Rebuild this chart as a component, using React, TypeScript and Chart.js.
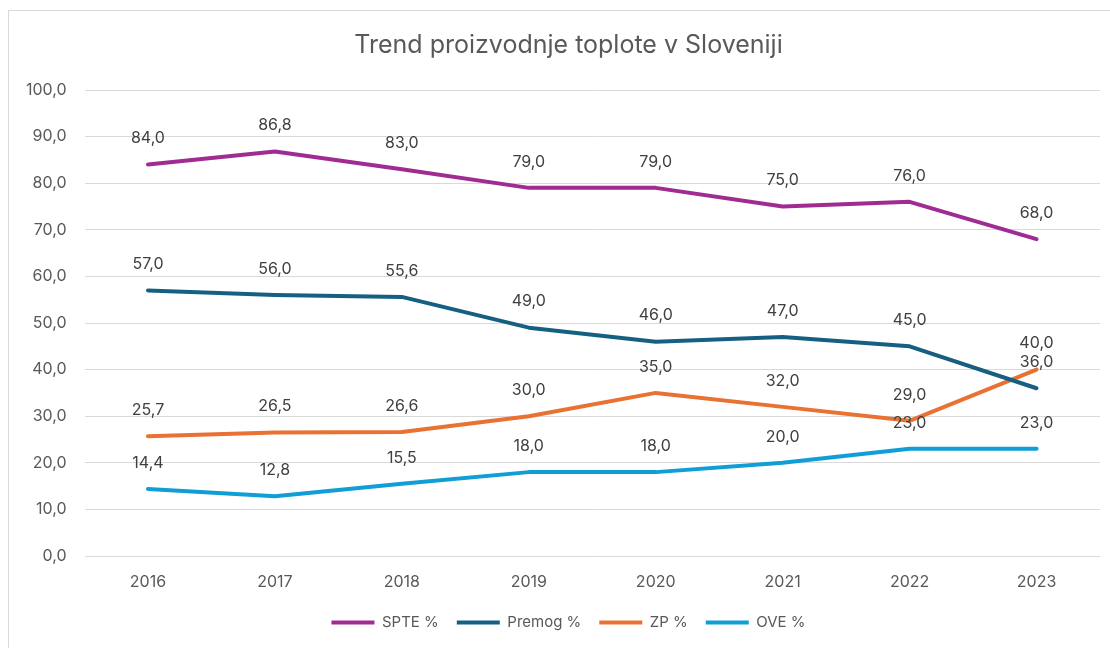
import React, { useEffect, useRef } from "react";
import { Chart, registerables } from "chart.js";

Chart.register(...registerables);

const years = ["2016", "2017", "2018", "2019", "2020", "2021", "2022", "2023"];
const spte = [84.0, 86.8, 83.0, 79.0, 79.0, 75.0, 76.0, 68.0];
const premog = [57.0, 56.0, 55.6, 49.0, 46.0, 47.0, 45.0, 36.0];
const zp = [25.7, 26.5, 26.6, 30.0, 35.0, 32.0, 29.0, 40.0];
const ove = [14.4, 12.8, 15.5, 18.0, 18.0, 20.0, 23.0, 23.0];
const seriesNames = ["SPTE %", "Premog %", "ZP %", "OVE %"];
const seriesColors = ["#A02B93", "#156082", "#E97132", "#0F9ED5"];
const chartTitle = "Trend proizvodnje toplote v Sloveniji";

const fmt = (v: number) => v.toFixed(1).replace(".", ",");
const FONT = "Inter, 'DejaVu Sans', sans-serif";

const dataLabelPlugin = {
  id: "dataLabels",
  afterLayout(chart: any) {
    // let the y-axis tick labels use the space left of the scale box
    chart.scales.y.left = 0;
  },
  afterDatasetsDraw(chart: any) {
    const ctx = chart.ctx;
    ctx.save();
    ctx.font = `16px ${FONT}`;
    ctx.fillStyle = "#404040";
    ctx.textAlign = "center";
    ctx.textBaseline = "middle";
    chart.data.datasets.forEach((ds: any, i: number) => {
      const meta = chart.getDatasetMeta(i);
      meta.data.forEach((pt: any, j: number) => {
        ctx.fillText(fmt(ds.data[j]), pt.x, pt.y - 26);
      });
    });
    ctx.restore();
  },
};

export default function App() {
  const ref = useRef<HTMLCanvasElement>(null);
  useEffect(() => {
    document.body.style.margin = "0";
    const all = [spte, premog, zp, ove];
    const chart = new Chart(ref.current!, {
      type: "line",
      data: {
        labels: years,
        datasets: all.map((d, i) => ({
          label: seriesNames[i],
          data: d,
          borderColor: seriesColors[i],
          backgroundColor: seriesColors[i],
          borderWidth: 4,
          borderCapStyle: "round",
          borderJoinStyle: "round",
          pointRadius: 0,
          tension: 0,
        })),
      },
      options: {
        animation: false,
        responsive: false,
        maintainAspectRatio: false,
        layout: { padding: { top: 10, right: 10, bottom: 8, left: 37 } },
        plugins: {
          title: {
            display: true,
            text: chartTitle,
            color: "#595959",
            font: { family: FONT, size: 25, weight: "normal" },
            padding: { top: 20, bottom: 30 },
          },
          legend: {
            position: "bottom",
            labels: {
              color: "#595959",
              font: { family: FONT, size: 15 },
              boxWidth: 43,
              boxHeight: 4,
              padding: 18,
              generateLabels: (c: any) =>
                Chart.defaults.plugins.legend.labels
                  .generateLabels(c)
                  .map((l: any) => ({ ...l, lineWidth: 0 })),
            },
          },
          tooltip: { enabled: false },
        },
        scales: {
          x: {
            offset: true,
            grid: { display: false },
            border: { display: false },
            ticks: { color: "#595959", font: { family: FONT, size: 16 }, padding: 9 },
            afterFit: (s: any) => {
              s.height = 41;
            },
          },
          y: {
            min: 0,
            max: 100,
            ticks: {
              stepSize: 10,
              color: "#595959",
              font: { family: FONT, size: 16 },
              padding: 18,
              callback: (v: any) => fmt(Number(v)),
            },
            grid: { color: "#d9d9d9", lineWidth: 1, drawTicks: false },
            border: { display: false },
            afterFit: (s: any) => {
              s.width = 47.5;
            },
          },
        },
      } as any,
      plugins: [dataLabelPlugin],
    });
    return () => chart.destroy();
  }, []);
  return (
    <div style={{ position: "relative", width: 1110, height: 648, background: "#fff", overflow: "hidden" }}>
      <canvas ref={ref} width={1110} height={648} style={{ position: "absolute", left: 0, top: 0 }} />
      <div
        style={{
          position: "absolute",
          left: 8,
          top: 10,
          width: 1200,
          height: 800,
          borderTop: "1px solid #d9d9d9",
          borderLeft: "1px solid #d9d9d9",
          pointerEvents: "none",
        }}
      />
    </div>
  );
}
